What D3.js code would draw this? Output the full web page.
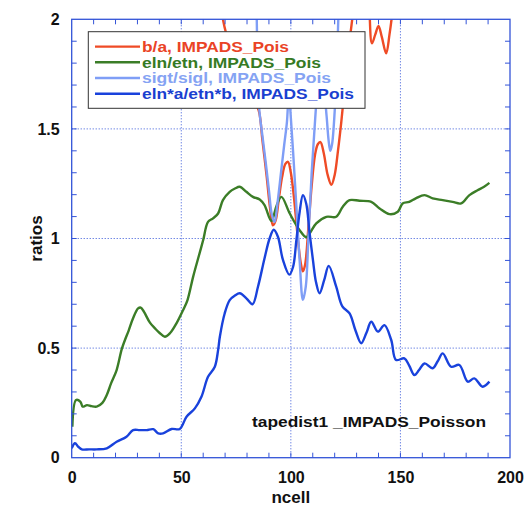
<!DOCTYPE html>
<html><head><meta charset="utf-8">
<script src="https://cdn.jsdelivr.net/npm/d3@7"></script>
<style>
body{margin:0;background:#fff;}
svg text{font-family:"Liberation Sans",Arial,Helvetica,sans-serif;font-weight:bold;}
</style>
</head><body>
<svg id="c" width="527" height="508"></svg>
<script>
// ---------- data ----------
const redN  = [60, 66, 69, 73, 78, 82, 85.3, 87, 89, 90.5, 91.8, 93, 94.5, 96, 97.5, 98.7, 100, 101.5, 103, 104.5, 105.5, 106.5, 108, 109.5, 111, 112.3, 113.5, 115, 116.8, 118.5, 120, 121.5, 123, 124.5, 126, 128, 130, 133, 135.5, 137, 138.5, 140, 141.5, 143.5, 145, 146.5, 149, 155, 192];
const redV  = [2.5, 2.3, 2.0, 1.85, 1.72, 1.65, 1.585, 1.45, 1.28, 1.14, 1.06, 1.08, 1.18, 1.28, 1.34, 1.35, 1.30, 1.18, 1.02, 0.89, 0.85, 0.88, 1.05, 1.24, 1.38, 1.43, 1.44, 1.39, 1.29, 1.245, 1.29, 1.40, 1.53, 1.68, 1.84, 2.0, 2.2, 2.3, 2.1, 1.89, 1.93, 1.97, 1.92, 1.845, 1.93, 2.05, 2.4, 2.6, 2.6];

const greenN = [0.3, 2, 4, 5, 7, 9, 11.4, 14, 16, 18, 20.5, 22.8, 24.3, 26, 28, 30.3, 31.5, 33, 35.7, 38, 40, 42.5, 45, 47.8, 50.8, 52.8, 55.4, 58, 60, 62.2, 64.5, 66.8, 69, 72.1, 74.5, 76.7, 79.7, 82.7, 85.8, 88, 91.1, 93.5, 95.7, 99.5, 104, 107, 109, 111.6, 116.2, 120.7, 123.7, 126.8, 131.3, 136.7, 140.5, 145, 148.8, 151, 154, 157, 161, 164.7, 169.3, 173.8, 177.7, 181.5, 185.2, 188, 190.6];
const greenV = [0.141, 0.263, 0.255, 0.233, 0.24, 0.235, 0.233, 0.25, 0.286, 0.34, 0.40, 0.494, 0.537, 0.58, 0.636, 0.681, 0.685, 0.665, 0.616, 0.59, 0.57, 0.552, 0.57, 0.613, 0.673, 0.718, 0.825, 0.92, 0.993, 1.076, 1.092, 1.114, 1.175, 1.213, 1.228, 1.236, 1.213, 1.19, 1.178, 1.152, 1.08, 1.15, 1.19, 1.114, 1.038, 1.006, 1.03, 1.069, 1.099, 1.099, 1.145, 1.175, 1.172, 1.167, 1.137, 1.111, 1.122, 1.16, 1.167, 1.183, 1.198, 1.183, 1.175, 1.167, 1.16, 1.198, 1.22, 1.235, 1.254];

const lightN = [82, 84, 84.6, 85.5, 87, 88.5, 90, 91.3, 92.6, 94, 95.5, 97, 98.2, 99.1, 100, 101, 102.5, 104, 105.5, 106.8, 108, 109.5, 110.8, 112, 113.5, 115, 116.3, 117.2, 118, 118.8, 120, 121, 121.8, 123, 126];
const lightV = [3.0, 2.3, 1.9, 1.6, 1.47, 1.35, 1.22, 1.11, 1.075, 1.17, 1.30, 1.43, 1.53, 1.66, 1.55, 1.40, 1.15, 0.9, 0.72, 0.78, 1.0, 1.3, 1.5, 1.65, 1.72, 1.68, 1.56, 1.45, 1.40, 1.43, 1.58, 1.8, 2.05, 2.5, 3.0];

const blueN = [0, 1.5, 3, 4.6, 8, 11.4, 16, 20.5, 25, 28, 31, 34.2, 37.2, 39.5, 41.7, 45.6, 49.3, 52.4, 56.2, 59.2, 62.2, 65.3, 66.8, 67.6, 69.8, 72.1, 74.5, 76.7, 79.7, 82.5, 85, 88, 90.3, 92.2, 94.1, 96.4, 99.3, 101, 102.5, 104, 105.5, 107, 108.5, 110.1, 111.5, 113.1, 115.2, 117.3, 120.7, 123.5, 126.8, 129.5, 132.1, 134.5, 136.7, 139.7, 142.7, 145.8, 148, 151.8, 154, 156.4, 158.5, 161, 164.7, 167, 169.3, 173.1, 176.9, 180.7, 183.7, 187.5, 190.6];
const blueV = [0.043, 0.066, 0.05, 0.038, 0.038, 0.038, 0.043, 0.073, 0.096, 0.126, 0.126, 0.126, 0.13, 0.111, 0.111, 0.131, 0.131, 0.187, 0.225, 0.278, 0.369, 0.415, 0.491, 0.552, 0.658, 0.719, 0.74, 0.75, 0.727, 0.70, 0.78, 0.91, 1.0, 1.04, 1.008, 0.902, 0.835, 0.87, 0.99, 1.12, 1.198, 1.16, 1.03, 0.90, 0.80, 0.75, 0.81, 0.875, 0.78, 0.69, 0.658, 0.58, 0.522, 0.57, 0.62, 0.575, 0.605, 0.537, 0.446, 0.453, 0.42, 0.377, 0.40, 0.43, 0.408, 0.44, 0.476, 0.415, 0.423, 0.347, 0.362, 0.324, 0.347];

const seriesNames = ["b/a, IMPADS_Pois", "eln/etn, IMPADS_Pois", "sigt/sigl, IMPADS_Pois", "eln*a/etn*b, IMPADS_Pois"];
const seriesColors = ["#ef4b26", "#3b7d27", "#7f9ef6", "#1942dc"];
const textColors = ["#ea4326", "#367a24", "#85a3f3", "#1a3fd0"];
const xTicks = [0, 50, 100, 150, 200];
const yTicks = [0, 0.5, 1, 1.5, 2];
const xTitle = "ncell", yTitle = "ratios";
const note = "tapedist1 _IMPADS_Poisson";

// ---------- chart ----------
const svg = d3.select("#c");
const L = 71.7, R = 510, T = 19.3, B = 457.7;
const x = d3.scaleLinear().domain([0, 200]).range([L, R]);
const y = d3.scaleLinear().domain([0, 2]).range([B, T]);
const axisCol = "#3354d8";

svg.append("rect").attr("width", 527).attr("height", 508).attr("fill", "#fff");
svg.append("defs").append("clipPath").attr("id", "clip")
  .append("rect").attr("x", L).attr("y", T).attr("width", R - L).attr("height", B - T);

// grid
const grid = svg.append("g").attr("stroke", axisCol).attr("stroke-width", 1).attr("stroke-dasharray", "1,2");
[50, 100, 150].forEach(v => grid.append("line").attr("x1", x(v)).attr("x2", x(v)).attr("y1", T).attr("y2", B));
[0.5, 1, 1.5].forEach(v => grid.append("line").attr("x1", L).attr("x2", R).attr("y1", y(v)).attr("y2", y(v)));

// lines
const datasets = [[redN, redV], [greenN, greenV], [lightN, lightV], [blueN, blueV]];
const line = d3.line().x(d => x(d[0])).y(d => y(d[1])).curve(d3.curveCatmullRom.alpha(0.5));
const lg = svg.append("g").attr("clip-path", "url(#clip)");
datasets.forEach((ds, i) => {
  const pts = ds[0].map((n, k) => [n, ds[1][k]]);
  lg.append("path").datum(pts).attr("d", line).attr("fill", "none")
    .attr("stroke", seriesColors[i]).attr("stroke-width", 2.4).attr("stroke-linejoin", "round");
});

// frame + ticks (all four sides)
svg.append("rect").attr("x", L).attr("y", T).attr("width", R - L).attr("height", B - T)
  .attr("fill", "none").attr("stroke", axisCol).attr("stroke-width", 1.3);
const tk = svg.append("g").attr("stroke", axisCol).attr("stroke-width", 1);
d3.range(10, 200, 10).forEach(v => {
  tk.append("line").attr("x1", x(v)).attr("x2", x(v)).attr("y1", B).attr("y2", B - 5);
  tk.append("line").attr("x1", x(v)).attr("x2", x(v)).attr("y1", T).attr("y2", T + 5);
});
d3.range(1, 20).forEach(k => {
  const v = k / 10;
  tk.append("line").attr("x1", L).attr("x2", L + 5).attr("y1", y(v)).attr("y2", y(v));
  tk.append("line").attr("x1", R).attr("x2", R - 5).attr("y1", y(v)).attr("y2", y(v));
});

// axis labels
const gx = svg.append("g").attr("transform", `translate(0,${B})`)
  .call(d3.axisBottom(x).tickValues(xTicks).tickSize(0).tickPadding(14).tickFormat(d3.format("d")));
gx.select(".domain").remove();
gx.selectAll("text").attr("font-size", 16).attr("fill", "#111").attr("font-family", "Liberation Sans, Arial, sans-serif").attr("font-weight", "bold");
const gy = svg.append("g").attr("transform", `translate(${L},0)`)
  .call(d3.axisLeft(y).tickValues(yTicks).tickSize(0).tickPadding(12).tickFormat(d => d3.format("")(d)));
gy.select(".domain").remove();
gy.selectAll("text").attr("font-size", 16).attr("fill", "#111").attr("font-family", "Liberation Sans, Arial, sans-serif").attr("font-weight", "bold");

svg.append("text").attr("x", (L + R) / 2).attr("y", 503).attr("text-anchor", "middle")
  .attr("font-size", 17).attr("fill", "#111").text(xTitle);
svg.append("text").attr("transform", `translate(42,${y(1)}) rotate(-90)`).attr("text-anchor", "middle")
  .attr("font-size", 17).attr("fill", "#111").text(yTitle);

// annotation
svg.append("text").attr("x", 252).attr("y", 427).attr("font-size", 15.5)
  .attr("textLength", 234).attr("lengthAdjust", "spacingAndGlyphs").attr("fill", "#111").text(note);

// legend
const leg = svg.append("g");
leg.append("rect").attr("x", 88.3).attr("y", 31.7).attr("width", 276.7).attr("height", 76.6)
  .attr("fill", "#fff").attr("stroke", "#333").attr("stroke-width", 1);
const rowY = [46.6, 62.3, 78, 93.7];
const legW = [147, 179, 189, 212];
seriesNames.forEach((nm, i) => {
  leg.append("line").attr("x1", 95).attr("x2", 140).attr("y1", rowY[i]).attr("y2", rowY[i])
    .attr("stroke", seriesColors[i]).attr("stroke-width", 2.4);
  leg.append("text").attr("x", 142).attr("y", rowY[i] + 5.3).attr("font-size", 14)
    .attr("textLength", legW[i]).attr("lengthAdjust", "spacingAndGlyphs")
    .attr("fill", textColors[i]).text(nm);
});
</script>
</body></html>
